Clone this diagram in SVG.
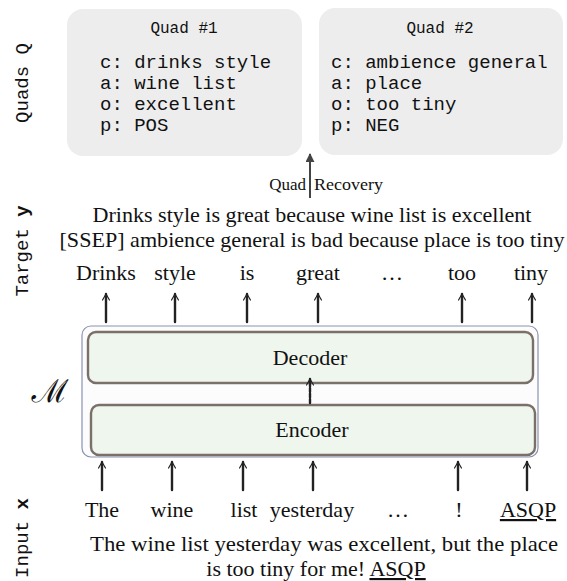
<svg xmlns="http://www.w3.org/2000/svg" width="567" height="581" viewBox="0 0 567 581">
<style>
.quad{fill:#ededed;stroke:none}
.mono{font-family:"Liberation Mono","DejaVu Sans Mono",monospace;fill:#111}
.qt{font-size:16px;text-anchor:middle}
.ql{font-size:19px}
.side{font-size:19px;text-anchor:middle}
.serif{font-family:"Liberation Serif","DejaVu Serif",serif;fill:#111}
.tok{font-size:22px;text-anchor:middle}
.sent{font-size:22px;text-anchor:middle}
.lbl{font-size:17px}
.box{fill:#eff6ee;stroke:#7b6f6a;stroke-width:2.4}
.arr{stroke:#222;stroke-width:2.4;fill:none;stroke-linecap:round}
</style>
<defs>
<marker id="chev" viewBox="0 0 10 10" refX="9" refY="5" markerWidth="3.6" markerHeight="3.6" markerUnits="strokeWidth" orient="auto">
<path d="M2,1 L9,5 L2,9" fill="none" stroke="#222" stroke-width="1.4" stroke-linecap="round" stroke-linejoin="round"/>
</marker>
<marker id="tri" viewBox="0 0 10 10" refX="9" refY="5" markerWidth="4.5" markerHeight="4.5" markerUnits="strokeWidth" orient="auto">
<path d="M0,0 L10,5 L0,10 Z" fill="#444"/>
</marker>
</defs>

<g id="side-labels">
<text class="mono side" transform="translate(28,83) rotate(-90)">Quads Q</text>
<text class="mono side" transform="translate(28,251) rotate(-90)">Target <tspan font-weight="bold">y</tspan></text>
<text class="mono side" transform="translate(28,538) rotate(-90)">Input <tspan font-weight="bold">x</tspan></text>
</g>

<g id="quad1">
<rect class="quad" x="67" y="9" width="235" height="147" rx="16"/>
<text class="mono qt" x="184" y="33">Quad #1</text>
<text class="mono ql" x="100" y="68">c: drinks style</text>
<text class="mono ql" x="100" y="89">a: wine list</text>
<text class="mono ql" x="100" y="110">o: excellent</text>
<text class="mono ql" x="100" y="131">p: POS</text>
</g>

<g id="quad2">
<rect class="quad" x="319" y="8" width="244" height="147" rx="16"/>
<text class="mono qt" x="440" y="33">Quad #2</text>
<text class="mono ql" x="331" y="68">c: ambience general</text>
<text class="mono ql" x="331" y="89">a: place</text>
<text class="mono ql" x="331" y="110">o: too tiny</text>
<text class="mono ql" x="331" y="131">p: NEG</text>
</g>

<g id="quad-recovery">
<text class="serif lbl" x="306" y="190" text-anchor="end">Quad</text>
<text class="serif lbl" x="314" y="190" textLength="69" lengthAdjust="spacingAndGlyphs">Recovery</text>
</g>

<g id="target">
<text class="serif sent" x="312" y="222" textLength="439" lengthAdjust="spacingAndGlyphs">Drinks style is great because wine list is excellent</text>
<text class="serif sent" x="312" y="247" textLength="505" lengthAdjust="spacingAndGlyphs">[SSEP] ambience general is bad because place is too tiny</text>
<text class="serif tok" x="106" y="280">Drinks</text>
<text class="serif tok" x="175" y="280">style</text>
<text class="serif tok" x="247" y="280">is</text>
<text class="serif tok" x="318" y="280">great</text>
<text class="serif tok" x="392" y="280">…</text>
<text class="serif tok" x="462" y="280">too</text>
<text class="serif tok" x="531" y="280">tiny</text>
</g>

<g id="model">
<rect x="82" y="326" width="456" height="131" rx="9" fill="#fcfcfc" stroke="#8a92b2" stroke-width="1.2"/>
<text x="50" y="402" font-family="'DejaVu Serif','Noto Sans',serif" font-size="32" text-anchor="middle" fill="#111">ℳ</text>
</g>

<g id="decoder">
<rect class="box" x="88" y="332" width="445" height="51" rx="8"/>
<text class="serif" x="310" y="365" font-size="22" text-anchor="middle">Decoder</text>
</g>

<g id="encoder">
<rect class="box" x="91" y="405" width="444" height="50" rx="8"/>
<text class="serif" x="312" y="437" font-size="22" text-anchor="middle">Encoder</text>
</g>

<g id="input">
<text class="serif tok" x="102" y="517">The</text>
<text class="serif tok" x="172" y="517">wine</text>
<text class="serif tok" x="244" y="517">list</text>
<text class="serif tok" x="312" y="517">yesterday</text>
<text class="serif tok" x="398" y="517">…</text>
<text class="serif tok" x="459" y="517">!</text>
<text class="serif tok" x="528" y="517" text-decoration="underline">ASQP</text>
<text class="serif sent" x="324" y="551" textLength="468" lengthAdjust="spacingAndGlyphs">The wine list yesterday was excellent, but the place</text>
<text class="serif sent" x="316" y="576">is too tiny for me! <tspan text-decoration="underline">ASQP</tspan></text>
</g>

<g id="connectors">
<line x1="310" y1="198" x2="310" y2="154" stroke="#444" stroke-width="2" marker-end="url(#tri)"/>
<line class="arr" x1="106" y1="322" x2="106" y2="294" marker-end="url(#chev)"/>
<line class="arr" x1="175" y1="322" x2="175" y2="294" marker-end="url(#chev)"/>
<line class="arr" x1="247" y1="322" x2="247" y2="294" marker-end="url(#chev)"/>
<line class="arr" x1="318" y1="322" x2="318" y2="294" marker-end="url(#chev)"/>
<line class="arr" x1="462" y1="322" x2="462" y2="294" marker-end="url(#chev)"/>
<line class="arr" x1="532" y1="322" x2="532" y2="294" marker-end="url(#chev)"/>
<line class="arr" x1="310" y1="403" x2="310" y2="379" stroke-dasharray="4 1.5" marker-end="url(#chev)"/>
<line class="arr" x1="102" y1="490" x2="102" y2="462" marker-end="url(#chev)"/>
<line class="arr" x1="172" y1="490" x2="172" y2="462" marker-end="url(#chev)"/>
<line class="arr" x1="243" y1="490" x2="243" y2="462" marker-end="url(#chev)"/>
<line class="arr" x1="313" y1="490" x2="313" y2="462" marker-end="url(#chev)"/>
<line class="arr" x1="458" y1="490" x2="458" y2="462" marker-end="url(#chev)"/>
<line class="arr" x1="527" y1="490" x2="527" y2="462" marker-end="url(#chev)"/>
</g>
</svg>
